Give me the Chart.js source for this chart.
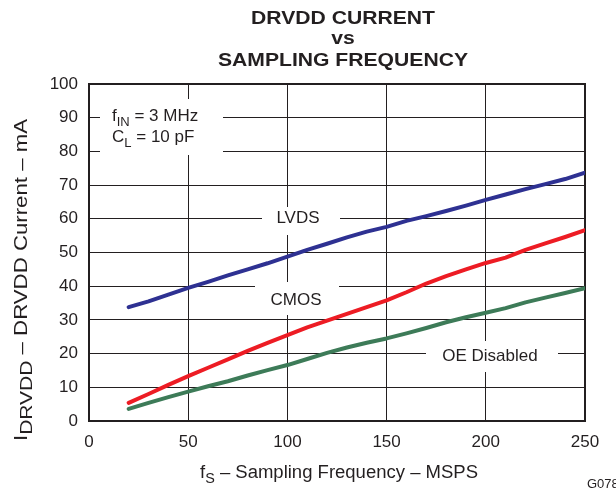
<!DOCTYPE html>
<html>
<head>
<meta charset="utf-8">
<script src="https://cdn.jsdelivr.net/npm/chart.js@4.4.1/dist/chart.umd.min.js"></script>
<style>
  html, body { margin: 0; padding: 0; background: #fff; }
  canvas { display: block; }
</style>
</head>
<body>
<canvas id="drvdd-plot" width="616" height="488"></canvas>
<script>

// sampling frequency, MSPS
const freq = [20, 30, 40, 50, 60, 70, 80, 90, 100, 110, 120, 130, 140, 150, 160, 170, 180, 190, 200, 210, 220, 230, 240, 250];

// DRVDD current, mA
const lvds       = [33.8, 35.5, 37.5, 39.5, 41.3, 43.2, 45.0, 46.8, 48.8, 50.8, 52.6, 54.5, 56.2, 57.6, 59.4, 60.8, 62.3, 63.9, 65.6, 67.2, 68.8, 70.3, 71.8, 73.7];
const cmos       = [5.4, 8.0, 10.7, 13.3, 15.8, 18.3, 20.8, 23.2, 25.5, 27.8, 29.8, 31.8, 33.8, 35.8, 38.2, 40.8, 43.0, 45.0, 46.9, 48.5, 50.8, 52.7, 54.6, 56.6];
const oeDisabled = [3.6, 5.4, 7.1, 8.7, 10.3, 11.8, 13.5, 15.1, 16.6, 18.4, 20.2, 21.8, 23.2, 24.5, 26.0, 27.6, 29.3, 30.8, 32.1, 33.5, 35.2, 36.6, 38.0, 39.4];

const xTicks = [0, 50, 100, 150, 200, 250];
const yTicks = [0, 10, 20, 30, 40, 50, 60, 70, 80, 90, 100];

const titleLines = ['DRVDD CURRENT', 'vs', 'SAMPLING FREQUENCY'];

const INK = '#231f20';
const FONT = '"Liberation Sans", Arial, Helvetica, sans-serif';

const toPoints = ( ys ) => freq.map( ( f, i ) => ( { x: f, y: ys[ i ] } ) );

// text runs like [['f'], ['IN', true], [' = 3 MHz']] -- second item marks a subscript
function runWidth( ctx, parts, size, subScale = 0.78 ) {
	let w = 0;
	for ( const [ text, sub ] of parts ) {
		ctx.font = ( sub ? Math.round( size * subScale ) : size ) + 'px ' + FONT;
		w += ctx.measureText( text ).width;
	}
	return w;
}

function drawRun( ctx, parts, x, y, size, align, stretch = 1, subScale = 0.78 ) {
	ctx.save();
	ctx.translate( x, y );
	ctx.scale( stretch, 1 );
	const total = runWidth( ctx, parts, size, subScale );
	let cx = align === 'center' ? -total / 2 : align === 'right' ? -total : 0;
	ctx.textAlign = 'left';
	ctx.textBaseline = 'alphabetic';
	for ( const [ text, sub ] of parts ) {
		ctx.font = ( sub ? Math.round( size * subScale ) : size ) + 'px ' + FONT;
		ctx.fillText( text, cx, sub ? size * 0.28 : 0 );
		cx += ctx.measureText( text ).width;
	}
	ctx.restore();
}

const decorations = {
	id: 'decorations',
	beforeDatasetsDraw( chart ) {
		const { ctx, chartArea: a } = chart;
		ctx.save();

		// frame round the plot
		ctx.strokeStyle = INK;
		ctx.lineWidth = 2;
		ctx.strokeRect( a.left, a.top, a.right - a.left, a.bottom - a.top );

		// white boxes behind the in-plot labels
		ctx.fillStyle = '#fff';
		ctx.fillRect( 100, 99, 123, 56 );
		ctx.fillRect( 262, 207, 78, 28 );
		ctx.fillRect( 255, 282, 84, 33 );
		ctx.fillRect( 426, 341, 132, 31 );

		ctx.fillStyle = INK;
		drawRun( ctx, [ [ 'f' ], [ 'IN', true ], [ ' = 3 MHz' ] ], 112, 121, 17, 'left' );
		drawRun( ctx, [ [ 'C' ], [ 'L', true ], [ ' = 10 pF' ] ], 112, 142, 17, 'left' );
		drawRun( ctx, [ [ 'LVDS' ] ], 298, 223, 17, 'center' );
		drawRun( ctx, [ [ 'CMOS' ] ], 296, 305, 17, 'center' );
		drawRun( ctx, [ [ 'OE Disabled' ] ], 490, 361, 17, 'center' );
		ctx.restore();
	},
	afterDraw( chart ) {
		const { ctx } = chart;
		ctx.save();
		ctx.fillStyle = INK;

		// three-line bold title
		ctx.font = 'bold 19px ' + FONT;
		const sx = 250 / ctx.measureText( titleLines[ 2 ] ).width;
		ctx.textAlign = 'center';
		[ 24, 44, 66 ].forEach( ( y, i ) => {
			ctx.save();
			ctx.translate( 343, y );
			ctx.scale( sx, 1 );
			ctx.fillText( titleLines[ i ], 0, 0 );
			ctx.restore();
		} );

		// axis titles
		const xt = [ [ 'f' ], [ 'S', true ], [ ' \u2013 Sampling Frequency \u2013 MSPS' ] ];
		drawRun( ctx, xt, 339, 478, 18, 'center', 278 / runWidth( ctx, xt, 18 ) );

		const yt = [ [ 'I' ], [ 'DRVDD', true ], [ ' \u2013 DRVDD Current \u2013 mA' ] ];
		ctx.save();
		ctx.translate( 27, 280 );
		ctx.rotate( -Math.PI / 2 );
		drawRun( ctx, yt, 0, 0, 18, 'center', 322 / runWidth( ctx, yt, 18, 0.95 ), 0.95 );
		ctx.restore();

		ctx.font = '13px ' + FONT;
		ctx.textAlign = 'left';
		ctx.fillText( 'G078', 587, 488 );
		ctx.restore();
	}
};

const lineStyle = {
	borderWidth: 4,
	borderCapStyle: 'round',
	borderJoinStyle: 'round',
	pointRadius: 0,
	tension: 0,
	fill: false
};

const axisTicks = {
	color: INK,
	font: { family: FONT, size: 17 }
};

const options = {
	responsive: false,
	animation: false,
	devicePixelRatio: 1,
	layout: {
		padding: { top: 84, right: 31, bottom: 0, left: 0 }
	},
	plugins: {
		legend: { display: false },
		tooltip: { enabled: false }
	},
	scales: {
		x: {
			type: 'linear',
			min: 0,
			max: 250,
			afterBuildTicks: ( s ) => { s.ticks = xTicks.map( ( v ) => ( { value: v } ) ); },
			afterFit: ( s ) => { s.height = 67; },
			grid: { color: INK, lineWidth: 1, drawTicks: false },
			border: { display: false },
			ticks: { ...axisTicks, padding: 11, maxRotation: 0 }
		},
		y: {
			min: 0,
			max: 100,
			afterBuildTicks: ( s ) => { s.ticks = yTicks.map( ( v ) => ( { value: v } ) ); },
			afterFit: ( s ) => { s.width = 89; },
			grid: { color: INK, lineWidth: 1, drawTicks: false },
			border: { display: false },
			ticks: { ...axisTicks, padding: 11 }
		}
	}
};

const drvddChart = new Chart( document.getElementById( 'drvdd-plot' ), {
	type: 'line',
	data: {
		datasets: [ {
			label: 'LVDS',
			data: toPoints( lvds ),
			borderColor: '#2e3192',
			...lineStyle
		}, {
			label: 'CMOS',
			data: toPoints( cmos ),
			borderColor: '#ed1c24',
			...lineStyle
		}, {
			label: 'OE Disabled',
			data: toPoints( oeDisabled ),
			borderColor: '#3d7b58',
			...lineStyle
		} ]
	},
	options: options,
	plugins: [ decorations ]
} );

</script>
</body>
</html>
